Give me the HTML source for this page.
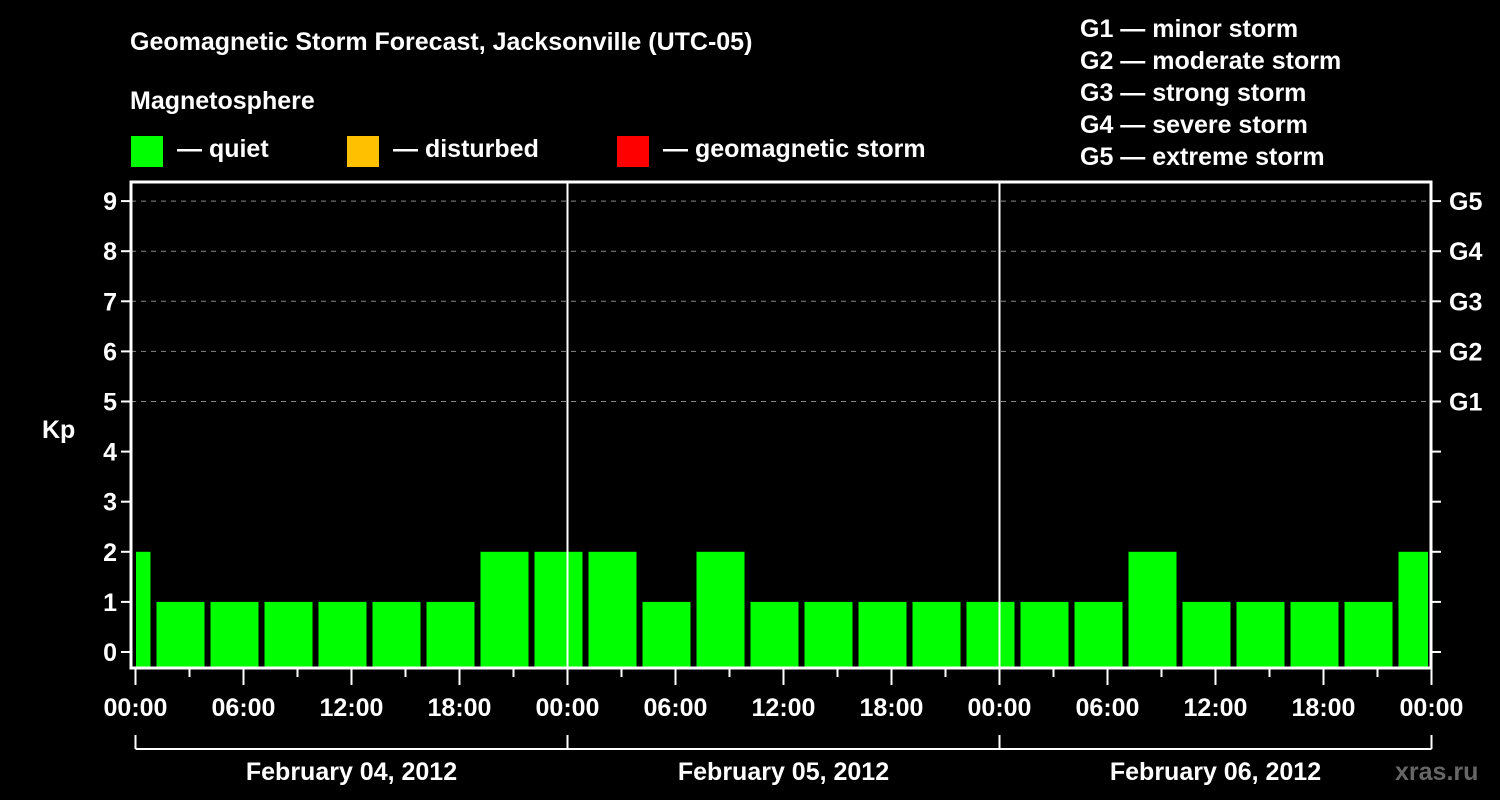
<!DOCTYPE html>
<html><head><meta charset="utf-8"><style>
body{margin:0;background:#000;}
svg{display:block;font-family:"Liberation Sans",Arial,sans-serif;font-weight:bold;}
</style></head><body>
<svg id="chart" width="1500" height="800" viewBox="0 0 1500 800">
<rect width="1500" height="800" fill="#000"/>
<text x="130" y="50" fill="#fff" font-size="25">Geomagnetic Storm Forecast, Jacksonville (UTC-05)</text>
<text x="130" y="109" fill="#fff" font-size="25">Magnetosphere</text>
<rect x="131" y="136" width="32" height="31" fill="#00ff00"/>
<text x="177" y="157" fill="#fff" font-size="25">— quiet</text>
<rect x="347" y="136" width="32" height="31" fill="#ffc000"/>
<text x="393" y="157" fill="#fff" font-size="25">— disturbed</text>
<rect x="617" y="136" width="32" height="31" fill="#ff0000"/>
<text x="663" y="157" fill="#fff" font-size="25">— geomagnetic storm</text>
<g fill="#fff" font-size="25">
<text x="1080" y="37">G1 — minor storm</text>
<text x="1080" y="69">G2 — moderate storm</text>
<text x="1080" y="101">G3 — strong storm</text>
<text x="1080" y="133">G4 — severe storm</text>
<text x="1080" y="165">G5 — extreme storm</text>
</g>
<text x="42" y="438" fill="#fff" font-size="25">Kp</text>
<text x="1395" y="780" fill="#666" font-size="25">xras.ru</text>
<g id="plot"></g>
</svg>
<script>
const kpValues=[2,1,1,1,1,1,1,2,2,2,1,2,1,1,1,1,1,1,1,2,1,1,1,1,2];
const barHoursStart=-0.5;
const barStepHours=3;
const yTicks=[0,1,2,3,4,5,6,7,8,9];
const gLabels=["G1","G2","G3","G4","G5"];
const gLevels=[5,6,7,8,9];
const xTickLabels=["00:00","06:00","12:00","18:00","00:00","06:00","12:00","18:00","00:00","06:00","12:00","18:00","00:00"];
const dateLabels=["February 04, 2012","February 05, 2012","February 06, 2012"];

const NS="http://www.w3.org/2000/svg";
const plot=document.getElementById('plot');
const X0=135.5,PXH=18,L=131,R=1431,T=182,B=668;
const xs=h=>X0+h*PXH;
const ys=v=>652-v*50.1;
function mk(tag,a){const e=document.createElementNS(NS,tag);for(const k in a)e.setAttribute(k,a[k]);plot.appendChild(e);return e;}
// grid
gLevels.forEach(v=>{
  const g=mk('line',{x1:L,x2:R,y1:ys(v),y2:ys(v),stroke:'#888','stroke-dasharray':'5,5','stroke-width':1});
  
  
});
// bars
kpValues.forEach((v,i)=>{
  const c=barHoursStart+i*barStepHours;
  let x1=xs(c)-24,x2=xs(c)+24;
  x1=Math.max(x1,136);x2=Math.min(x2,1428);
  const col=v>=5?'#ff0000':(v>=4?'#ffc000':'#00ff00');
  const r=mk('rect',{x:x1,y:ys(v),width:x2-x1,height:B-ys(v),fill:col});
  
  
});
// day separators
[24,48].forEach(h=>{
  const l=mk('line',{x1:xs(h),x2:xs(h),y1:T,y2:B,stroke:'#fff','stroke-width':2});
  
  
});
// frame
const f=mk('rect',{x:L,y:T,width:R-L,height:B-T,fill:'none',stroke:'#fff','stroke-width':3});


// y ticks
yTicks.forEach(v=>{
  const y=ys(v);
  const t1=mk('line',{x1:L-10,x2:L,y1:y,y2:y,stroke:'#fff','stroke-width':2});
  
  
  const t2=mk('line',{x1:R,x2:R+10,y1:y,y2:y,stroke:'#fff','stroke-width':2});
  
  
  const tx=mk('text',{x:L-14,y:y+9,fill:'#fff','font-size':25,'text-anchor':'end'});
  tx.textContent=v;
  
  
});
gLevels.forEach((v,i)=>{
  const tx=mk('text',{x:R+18,y:ys(v)+9,fill:'#fff','font-size':25});
  tx.textContent=gLabels[i];
  
  
});
// x ticks
for(let h=0;h<=72;h+=3){
  const major=h%6===0;
  const t=mk('line',{x1:xs(h),x2:xs(h),y1:B,y2:major?685:677,stroke:'#fff','stroke-width':2});
  
  
}
xTickLabels.forEach((s,i)=>{
  const tx=mk('text',{x:xs(i*6),y:716,fill:'#fff','font-size':25,'text-anchor':'middle'});
  tx.textContent=s;
  
  
});
// date bracket
const bl=mk('line',{x1:xs(0),x2:xs(72),y1:749,y2:749,stroke:'#fff','stroke-width':2});


[0,24,48,72].forEach(h=>{
  const t=mk('line',{x1:xs(h),x2:xs(h),y1:735,y2:749,stroke:'#fff','stroke-width':2});
  
  
});
dateLabels.forEach((s,i)=>{
  const tx=mk('text',{x:xs(i*24+12),y:780,fill:'#fff','font-size':25,'text-anchor':'middle'});
  tx.textContent=s;
  
  
});
</script>
</body></html>
